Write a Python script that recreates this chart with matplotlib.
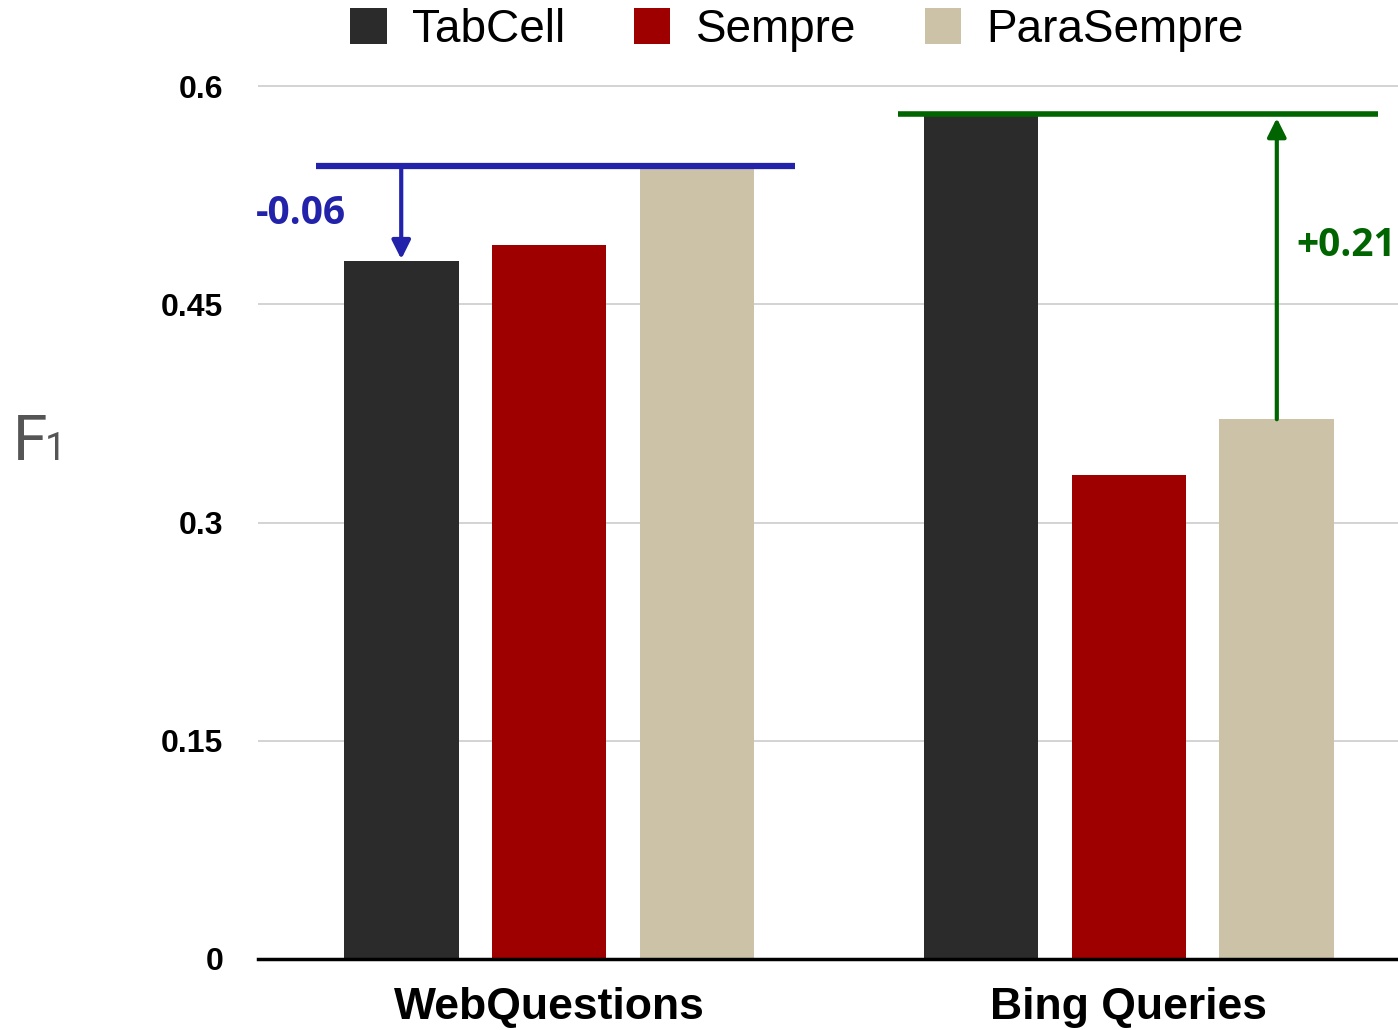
import numpy as np
import matplotlib
matplotlib.use("Agg")
import matplotlib.pyplot as plt
from matplotlib.patches import Patch

# data
datasets = ["WebQuestions", "Bing Queries"]
systems = ["TabCell", "Sempre", "ParaSempre"]
tabcell = [0.480, 0.581]
sempre = [0.491, 0.333]
parasempre = [0.545, 0.371]
yticks = [0, 0.15, 0.3, 0.45, 0.6]
ytick_labels = ["0", "0.15", "0.3", "0.45", "0.6"]

colors = ["#2b2b2b", "#9e0000", "#cbc2a8"]
sans = ["Liberation Sans", "DejaVu Sans"]

fig = plt.figure(figsize=(13.98, 10.3), dpi=100)
ax = fig.add_axes([258 / 1398, 71 / 1030, 1140 / 1398, (959 - 71.5) / 1030])

x = np.arange(len(datasets))
offset = 0.255
width = 0.198
for i, (vals, c) in enumerate(zip([tabcell, sempre, parasempre], colors)):
    ax.bar(x + (i - 1) * offset, vals, width, color=c, zorder=2)

ax.set_xlim(-0.502, 1.464)
ax.set_ylim(0, 0.61)

# grid / spines
ax.set_yticks(yticks)
ax.set_yticklabels(ytick_labels, fontfamily=sans, fontweight="bold", fontsize=23)
ax.yaxis.grid(True, color="#cccccc", lw=1.2, zorder=0)
ax.set_axisbelow(True)
ax.tick_params(axis="y", length=0, pad=25)
ax.set_xticks(x)
ax.set_xticklabels(datasets, fontfamily=sans, fontweight="bold", fontsize=32)
ax.tick_params(axis="x", length=0, pad=20)
for s in ["top", "right", "left"]:
    ax.spines[s].set_visible(False)
ax.spines["bottom"].set_linewidth(2.5)
ax.spines["bottom"].set_color("black")
ax.spines["bottom"].set_zorder(3)

# WebQuestions annotation (blue)
blue = "#2222aa"
ax.plot([-0.402, 0.424], [parasempre[0], parasempre[0]], color=blue, lw=4.5, zorder=4,
        solid_capstyle="butt")
ax.annotate("", xy=(x[0] - offset, tabcell[0] + 0.001), xytext=(x[0] - offset, parasempre[0]),
            arrowprops=dict(arrowstyle="-|>", color=blue, lw=3, mutation_scale=28,
                            shrinkA=0, shrinkB=0), zorder=4)
ax.text(-0.428, 0.5127, "-0.06", color=blue, fontsize=28, fontweight="bold",
        fontfamily="Open Sans", ha="center", va="center")

# Bing Queries annotation (green)
green = "#006400"
ax.plot([0.602, 1.429], [tabcell[1], tabcell[1]], color=green, lw=4, zorder=4,
        solid_capstyle="butt")
ax.annotate("", xy=(x[1] + offset, tabcell[1] - 0.003), xytext=(x[1] + offset, parasempre[1]),
            arrowprops=dict(arrowstyle="-|>", color=green, lw=3, mutation_scale=28,
                            shrinkA=0, shrinkB=0), zorder=4)
ax.text(1.374, 0.4907, "+0.21", color=green, fontsize=28, fontweight="bold",
        fontfamily="Open Sans", ha="center", va="center")

# y label: F with subscript 1
fig.text(13 / 1398, 1 - 460 / 1030, "F", color="#555555", fontsize=45,
         fontfamily="Roboto", ha="left", va="baseline")
fig.text(45 / 1398, 1 - 460 / 1030, "1", color="#555555", fontsize=27,
         fontfamily="Roboto", ha="left", va="baseline")

# legend
handles = [Patch(facecolor=c, edgecolor="none") for c in colors]
fig.legend(handles, systems, loc="center", bbox_to_anchor=(797 / 1398, 1 - 30 / 1030),
           ncol=3, frameon=False, handlelength=0.8, handleheight=0.85,
           handletextpad=0.55, columnspacing=1.5, borderpad=0,
           prop={"family": "Liberation Sans", "size": 33})

fig.savefig("out.png", dpi=100)
